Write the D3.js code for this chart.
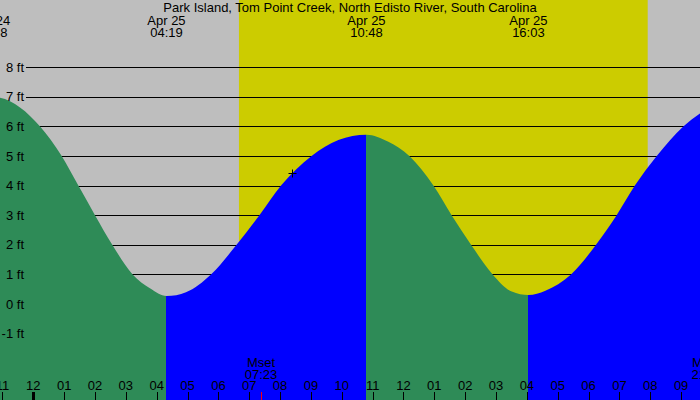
<!DOCTYPE html>
<html>
<head>
<meta charset="utf-8">
<script src="https://cdn.jsdelivr.net/npm/d3@7"></script>
<style>
  html, body { margin: 0; padding: 0; background: #bebebe; }
  svg { display: block; }
  text { font-family: "Liberation Sans", Arial, sans-serif; font-size: 13px; fill: #000; }
</style>
</head>
<body>
<svg id="chart" width="700" height="400"></svg>
<script>
// ---- data (hours relative to midnight, Apr 25) ----
const title = "Park Island, Tom Point Creek, North Edisto River, South Carolina";

const tideHours = [-1.37, -1.08, 0.22, 0.92, 1.46, 2.00, 2.56, 3.22, 3.78, 4.32, 4.95, 5.76, 6.59, 7.33, 8.03, 9.02, 9.89, 10.80, 11.51, 12.19, 12.97, 13.56, 14.19, 14.89, 15.51, 16.05, 16.60, 17.43, 18.24, 18.91, 19.50, 20.21, 21.07, 21.61, 22.30];
const tideFeet  = [7.00, 6.97, 6.00, 5.00, 4.00, 3.00, 2.00, 1.00, 0.53, 0.27, 0.40, 1.00, 2.00, 3.00, 4.00, 5.00, 5.54, 5.72, 5.48, 5.00, 4.00, 3.00, 2.00, 1.00, 0.42, 0.30, 0.45, 1.00, 2.00, 3.00, 4.00, 5.00, 6.00, 6.44, 6.90];

const extremeDates = ["Apr 24", "Apr 25", "Apr 25", "Apr 25"];
const extremeTimes = ["22:38", "04:19", "10:48", "16:03"];
const extremeFeet  = [7.00, 0.27, 5.72, 0.30];

const sunTimes = ["06:40", "19:55"];          // sunrise, sunset
const moonLabels = ["Mset", "Mrise"];
const moonTimes  = ["07:23", "21:52"];

const markerTime = "08:23";
const markerFeet = 4.43;

const feetTicks = [8, 7, 6, 5, 4, 3, 2, 1, 0, -1];
const feetLabels = ["8 ft", "7 ft", "6 ft", "5 ft", "4 ft", "3 ft", "2 ft", "1 ft", "0 ft", "-1 ft"];

const hourTicks  = [-1, 0, 1, 2, 3, 4, 5, 6, 7, 8, 9, 10, 11, 12, 13, 14, 15, 16, 17, 18, 19, 20, 21];
const hourLabels = ["11", "12", "01", "02", "03", "04", "05", "06", "07", "08", "09", "10", "11", "12", "01", "02", "03", "04", "05", "06", "07", "08", "09"];

// ---- helpers ----
function hrs(str, date) {
  const [h, m] = str.split(":").map(Number);
  return h + m / 60 - (date === "Apr 24" ? 24 : 0);
}

const W = 700, H = 400;
const svg = d3.select("#chart");

const x = d3.scaleLinear().domain([-1.0794, 21.6118]).range([0, W]);
const y = d3.scaleLinear().domain([0, 8]).range([304, 67.2]);

// background
svg.append("rect").attr("x", 0).attr("y", 0).attr("width", W).attr("height", H).attr("fill", "#bebebe");

// daylight
const sr = hrs(sunTimes[0]), ss = hrs(sunTimes[1]);
svg.append("rect")
  .attr("x", x(sr)).attr("y", 0)
  .attr("width", x(ss) - x(sr)).attr("height", H)
  .attr("fill", "#cccc00");

// horizontal grid lines
svg.append("g").selectAll("line").data(feetTicks).join("line")
  .attr("x1", 26).attr("x2", W)
  .attr("y1", d => Math.round(y(d)) + 0.5).attr("y2", d => Math.round(y(d)) + 0.5)
  .attr("stroke", "#000").attr("stroke-width", 1);

// tide area
const tide = tideHours.map((t, i) => ({ t, h: tideFeet[i] }));
const area = d3.area()
  .x(d => x(d.t)).y0(H).y1(d => y(d.h))
  .curve(d3.curveMonotoneX);

const defs = svg.append("defs");
defs.append("clipPath").attr("id", "tideClip")
  .append("path").attr("d", area(tide));

const ext = extremeTimes.map((s, i) => ({ t: hrs(s, extremeDates[i]), h: extremeFeet[i], date: extremeDates[i], time: s }));
const bounds = [x.domain()[0] - 1].concat(ext.map(e => e.t)).concat([x.domain()[1] + 1]);
const segs = [];
for (let i = 0; i < bounds.length - 1; i++) {
  // rising if the segment ends at a high (or after a low)
  let rising;
  if (i < ext.length) rising = ext[i].h > 3; // ends at high
  else rising = ext[ext.length - 1].h < 3;
  segs.push({ a: bounds[i], b: bounds[i + 1], rising });
}
svg.append("g").attr("clip-path", "url(#tideClip)")
  .selectAll("rect").data(segs).join("rect")
  .attr("x", d => x(d.a)).attr("y", 0)
  .attr("width", d => x(d.b) - x(d.a)).attr("height", H)
  .attr("fill", d => d.rising ? "#0000ff" : "#2e8b57")
  .attr("shape-rendering", "crispEdges");

// y labels
svg.append("g").selectAll("text").data(feetTicks).join("text")
  .attr("x", 24).attr("y", d => y(d) + 4.5)
  .attr("text-anchor", "end")
  .text((d, i) => feetLabels[i]);

// title
svg.append("text").attr("x", W / 2).attr("y", 12).attr("text-anchor", "middle").text(title);

// extreme labels
const eg = svg.append("g").selectAll("g").data(ext).join("g");
eg.append("text").attr("x", d => x(d.t)).attr("y", 24.5).attr("text-anchor", "middle").text(d => d.date);
eg.append("text").attr("x", d => x(d.t)).attr("y", 36.5).attr("text-anchor", "middle").text(d => d.time);

// marker
const mx = Math.round(x(hrs(markerTime))) + 0.5, my = Math.round(y(markerFeet)) + 0.5;
svg.append("path")
  .attr("d", `M${mx - 4},${my}H${mx + 4}M${mx},${my - 4}V${my + 4}`)
  .attr("stroke", "#000").attr("stroke-width", 1).attr("fill", "none");

// hour ticks and labels
svg.append("g").selectAll("rect").data(hourTicks).join("rect")
  .attr("x", d => d === 0 ? Math.round(x(d)) - 1.5 : Math.round(x(d)) - 0.5)
  .attr("y", 392).attr("width", d => d === 0 ? 3 : 1).attr("height", 8)
  .attr("fill", "#000").attr("shape-rendering", "crispEdges");
svg.append("g").selectAll("text").data(hourTicks).join("text")
  .attr("x", d => x(d)).attr("y", 390).attr("text-anchor", "middle")
  .text((d, i) => hourLabels[i]);

// moon
const moon = moonTimes.map((s, i) => ({ t: hrs(s), label: moonLabels[i], time: s }));
const mg = svg.append("g").selectAll("g").data(moon).join("g");
mg.append("rect").attr("x", d => Math.round(x(d.t)) - 0.5).attr("y", 392)
  .attr("width", 1).attr("height", 8).attr("fill", "#ff0000").attr("shape-rendering", "crispEdges");
mg.append("text").attr("x", d => x(d.t)).attr("y", 366.7).attr("text-anchor", "middle").text(d => d.label);
mg.append("text").attr("x", d => x(d.t)).attr("y", 378.5).attr("text-anchor", "middle").text(d => d.time);
</script>
</body>
</html>
